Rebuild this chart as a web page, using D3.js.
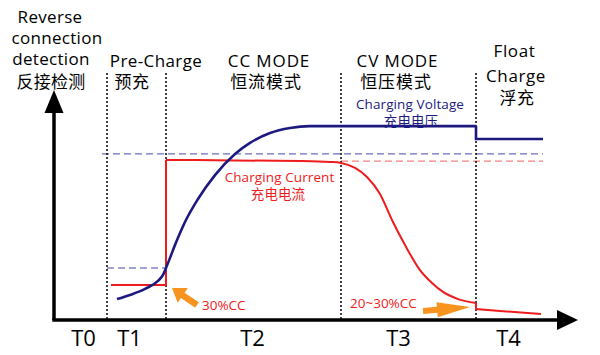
<!DOCTYPE html>
<html><head><meta charset="utf-8">
<script src="https://cdn.jsdelivr.net/npm/d3@7"></script>
<style>
html,body{margin:0;padding:0;background:#fff;}
svg{display:block;font-family:"Open Sans","Noto Sans CJK SC",sans-serif;}
</style></head><body>
<svg id="c" width="600" height="355"></svg>
<script>
// ---- data (time units along x, relative level 0..100 along y) ----
const phaseBounds = [10.6, 22.4, 57.4, 84.4];
const phaseTicks = [5.8, 15.0, 39.6, 68.8, 90.8];
const phaseTickLabels = ["T0", "T1", "T2", "T3", "T4"];
const voltageRise = [[12.6,9.1],[15.2,10.9],[18.2,13.5],[20.8,17.0],[21.8,19.6],[22.4,22.6],[23.2,27.0],[24.2,32.6],[25.2,37.8],[26.2,42.6],[28.8,52.6],[32.2,63.0],[36.2,72.2],[39.2,77.0],[43.2,81.3],[47.2,83.5],[51.2,84.3],[84.4,84.3]];
const voltageFloat = [[84.4,84.3],[84.4,78.7],[97.8,78.7]];
const currentPre = [[11.4,15.2],[22.4,15.2],[22.4,69.6]];
const currentCCCV = [[22.4,69.6],[49.2,69.1],[55.2,68.7],[57.4,68.3],[60.2,66.1],[62.6,62.2],[65.2,54.8],[67.6,43.5],[70.2,32.6],[73.2,21.7],[75.6,16.1],[77.8,12.2],[80.8,9.1],[84.4,7.4]];
const currentFloat = [[84.4,7.4],[84.4,4.8],[89.2,3.9],[97.4,2.6]];
const refVoltageCV = [[9.6,72.2],[97.8,72.2]];
const refCurrentCC = [[57.4,69.1],[97.8,69.1]];
const refVoltagePre = [[10.6,22.6],[22.4,22.6]];
const markerTop = 107.4;
const arrow30 = [[28.6,6.5],[23.6,13.9]];
const arrow2030 = [[73.8,3.9],[83.2,5.7]];
const headerReverse = ["Reverse", "connection", "detection", "反接检测"];
const headerPre = ["Pre-Charge", "预充"];
const headerCC = ["CC MODE", "恒流模式"];
const headerCV = ["CV MODE", "恒压模式"];
const headerFloat = ["Float", "Charge", "浮充"];
const voltageLabel = ["Charging Voltage", "充电电压"];
const currentLabel = ["Charging Current", "充电电流"];
const note30 = "30%CC";
const note2030 = "20~30%CC";

// ---- drawing ----
const svg = d3.select("#c");
const x = d3.scaleLinear().domain([0, 105]).range([54, 579]);
const y = d3.scaleLinear().domain([0, 100]).range([320, 90]);

const NAVY = "#1c1a80", RED = "#ee1c1c", ORANGE = "#f7931e";

// reference dashed lines
const lin = d3.line().x(d => x(d[0])).y(d => y(d[1]));
svg.append("path").attr("d", lin(refVoltageCV)).attr("stroke", "#6f6cbc").attr("stroke-width", 1.3).attr("stroke-dasharray", "7,4").attr("fill", "none");
svg.append("path").attr("d", lin(refCurrentCC)).attr("stroke", "#f28080").attr("stroke-width", 1.3).attr("stroke-dasharray", "7,4").attr("fill", "none");
svg.append("path").attr("d", lin(refVoltagePre)).attr("stroke", "#8582c2").attr("stroke-width", 1.3).attr("stroke-dasharray", "7,4").attr("fill", "none");

// phase boundary dotted lines
svg.selectAll("line.bound").data(phaseBounds).join("line")
  .attr("x1", d => x(d)).attr("x2", d => x(d))
  .attr("y1", y(markerTop)).attr("y2", y(0))
  .attr("stroke", "#111").attr("stroke-width", 1.6).attr("stroke-dasharray", "2,2");

// current
svg.append("path").attr("d", lin(currentPre)).attr("stroke", RED).attr("stroke-width", 2).attr("fill", "none");
svg.append("path").attr("d", d3.line().x(d => x(d[0])).y(d => y(d[1])).curve(d3.curveMonotoneX)(currentCCCV))
  .attr("stroke", RED).attr("stroke-width", 2).attr("fill", "none");
svg.append("path").attr("d", lin(currentFloat)).attr("stroke", RED).attr("stroke-width", 2).attr("fill", "none");

// voltage
svg.append("path").attr("d", d3.line().x(d => x(d[0])).y(d => y(d[1])).curve(d3.curveMonotoneX)(voltageRise))
  .attr("stroke", NAVY).attr("stroke-width", 2.6).attr("fill", "none");
svg.append("path").attr("d", lin(voltageFloat)).attr("stroke", NAVY).attr("stroke-width", 2.6).attr("fill", "none");

// axes
const xAxis = d3.axisBottom(x).tickValues(phaseTicks).tickFormat((d, i) => phaseTickLabels[i]).tickSize(0).tickPadding(10).tickSizeOuter(0);
const gx = svg.append("g").attr("transform", `translate(0,${y(0)})`).call(xAxis);
gx.select(".domain").attr("stroke", "#000").attr("stroke-width", 3.5).attr("d", `M${x(0) - 1.7},0H${x(101)}`);
gx.selectAll(".tick text").attr("font-size", 22).attr("fill", "#000").attr("font-family", "Open Sans");
const yAxis = d3.axisLeft(y).tickValues([]).tickSizeOuter(0);
const gy = svg.append("g").attr("transform", `translate(${x(0)},0)`).call(yAxis);
gy.select(".domain").attr("stroke", "#000").attr("stroke-width", 3.5).attr("d", `M0,${y(0)}V${y(95)}`);
// arrowheads
svg.append("path").attr("d", `M${x(0)},${y(100)}L${x(0) - 9.5},${y(90)}L${x(0) + 9.5},${y(90)}Z`).attr("fill", "#000");
svg.append("path").attr("d", `M${x(104.8)},${y(0)}L${x(100.6)},${y(0) - 10}L${x(100.6)},${y(0) + 10}Z`).attr("fill", "#000");

// orange arrows
function arrow(pts, shaft, headLen, headW) {
  const [x0, y0] = [x(pts[0][0]), y(pts[0][1])];
  const [x1, y1] = [x(pts[1][0]), y(pts[1][1])];
  const dx = x1 - x0, dy = y1 - y0, L = Math.hypot(dx, dy);
  const ux = dx / L, uy = dy / L, nx = -uy, ny = ux;
  const bx = x1 - ux * headLen, by = y1 - uy * headLen;
  const p = [
    [x0 + nx * shaft / 2, y0 + ny * shaft / 2],
    [bx + nx * shaft / 2, by + ny * shaft / 2],
    [bx + nx * headW / 2, by + ny * headW / 2],
    [x1, y1],
    [bx - nx * headW / 2, by - ny * headW / 2],
    [bx - nx * shaft / 2, by - ny * shaft / 2],
    [x0 - nx * shaft / 2, y0 - ny * shaft / 2]
  ];
  svg.append("path").attr("d", "M" + p.map(q => q.join(",")).join("L") + "Z").attr("fill", ORANGE);
}
arrow(arrow30, 6.5, 13, 18);
arrow(arrow2030, 6, 33, 15);

// texts
function lines(arr, xs, ys, size, color, ls) {
  arr.forEach((t, i) => {
    svg.append("text").attr("x", xs[i]).attr("y", ys[i]).attr("text-anchor", "middle")
      .attr("font-size", size).attr("fill", color).attr("letter-spacing", ls || 0).text(t);
  });
}
lines(headerReverse, [50, 57, 51, 51], [23, 44, 65, 88], 17, "#000", 0.3);
lines(headerPre, [156, 132], [67, 88], 17, "#000", 0.4);
lines(headerCC, [269, 266], [67, 88], 17, "#000", 0.9);
lines(headerCV, [397.5, 396], [67, 88], 17, "#000", 0.9);
lines(headerFloat, [514.5, 516, 517], [57, 82, 104], 17, "#000", 0.6);
lines(voltageLabel, [410, 411], [109, 126], 13.5, NAVY, 0.1);
lines(currentLabel, [279.5, 278], [182, 199], 13.5, RED, 0.1);
svg.append("text").attr("x", 202).attr("y", 310).attr("font-size", 13.5).attr("fill", RED).text(note30);
svg.append("text").attr("x", 350).attr("y", 308).attr("font-size", 13.5).attr("fill", RED).text(note2030);
</script>
</body></html>
